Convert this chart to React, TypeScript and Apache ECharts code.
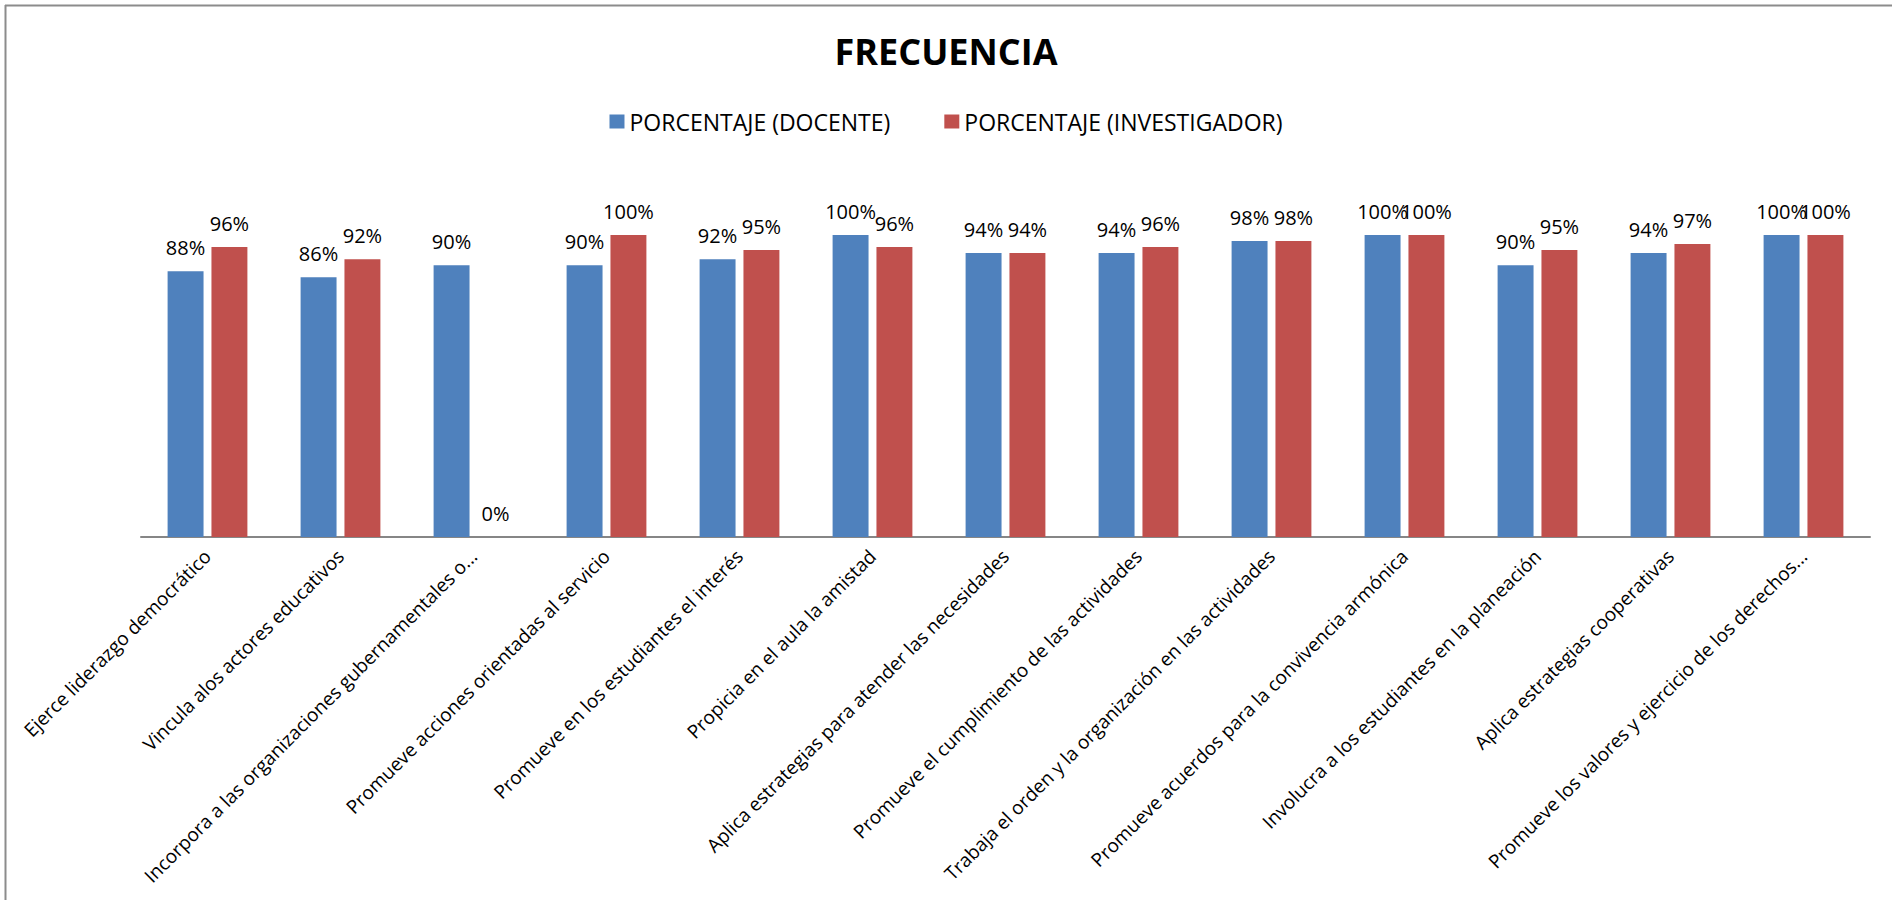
import React, { useEffect, useRef } from "react";
import * as echarts from "echarts";

// Survey items (x-axis categories)
const categories: string[] = [
  "Ejerce liderazgo democrático",
  "Vincula alos actores educativos",
  "Incorpora a las organizaciones gubernamentales o...",
  "Promueve acciones orientadas al servicio",
  "Promueve en los estudiantes el interés",
  "Propicia en el aula la amistad",
  "Aplica estrategias para atender las necesidades",
  "Promueve el cumplimiento de las actividades",
  "Trabaja el orden y la organización en las actividades",
  "Promueve acuerdos para la convivencia armónica",
  "Involucra a los estudiantes en la planeación",
  "Aplica estrategias cooperativas",
  "Promueve los valores y ejercicio de los derechos...",
];

// Percentages per item
const docente: number[] = [88, 86, 90, 90, 92, 100, 94, 94, 98, 100, 90, 94, 100];
const investigador: number[] = [96, 92, 0, 100, 95, 96, 94, 96, 98, 100, 95, 97, 100];

const seriesNames: string[] = ["PORCENTAJE (DOCENTE)", "PORCENTAJE (INVESTIGADOR)"];
const colors: string[] = ["#4F81BD", "#C0504D"];

const FONT = "'Open Sans', 'Noto Sans', sans-serif";

export default function App() {
  const ref = useRef<HTMLDivElement>(null);

  useEffect(() => {
    if (!ref.current) return;
    const chart = echarts.init(ref.current, undefined, { renderer: "svg" });

    const labelCfg = {
      show: true,
      position: "top" as const,
      distance: 14,
      fontSize: 20,
      fontFamily: FONT,
      color: "#000",
      formatter: (p: any) => `${p.value}%`,
    };

    chart.setOption({
      animation: false,
      backgroundColor: "#ffffff",
      title: {
        text: "FRECUENCIA",
        left: "center",
        top: 28,
        textStyle: { fontSize: 36, fontWeight: "bold", fontFamily: FONT, color: "#000" },
      },
      legend: {
        top: 105,
        left: "center",
        itemWidth: 15,
        itemHeight: 14,
        itemGap: 54,
        icon: "rect",
        textStyle: { fontSize: 23, fontFamily: FONT, color: "#000" },
        data: seriesNames,
      },
      grid: { left: 141, right: 22, top: 235, bottom: 363 },
      xAxis: {
        type: "category",
        data: categories,
        axisLine: { show: true, lineStyle: { color: "#868686", width: 2 } },
        axisTick: { show: false },
        axisLabel: {
          interval: 0,
          rotate: 45,
          margin: 16,
          fontSize: 19,
          fontFamily: FONT,
          color: "#000",
        },
      },
      yAxis: {
        type: "value",
        min: 0,
        max: 100,
        show: false,
        splitLine: { show: false },
      },
      series: [
        {
          name: seriesNames[0],
          type: "bar",
          data: docente,
          barGap: "22%",
          barCategoryGap: "40%",
          itemStyle: { color: colors[0] },
          label: labelCfg,
        },
        {
          name: seriesNames[1],
          type: "bar",
          data: investigador,
          barGap: "22%",
          barCategoryGap: "40%",
          itemStyle: { color: colors[1] },
          label: labelCfg,
        },
      ],
      graphic: [
        {
          type: "line",
          shape: { x1: 5, y1: 5.5, x2: 1892, y2: 5.5 },
          style: { stroke: "#8c8c8c", lineWidth: 2 },
        },
        {
          type: "line",
          shape: { x1: 5.5, y1: 5, x2: 5.5, y2: 900 },
          style: { stroke: "#8c8c8c", lineWidth: 2 },
        },
      ],
    });

    return () => chart.dispose();
  }, []);

  return (
    <div
      ref={ref}
      style={{ position: "fixed", left: 0, top: 0, width: 1892, height: 900 }}
    />
  );
}
